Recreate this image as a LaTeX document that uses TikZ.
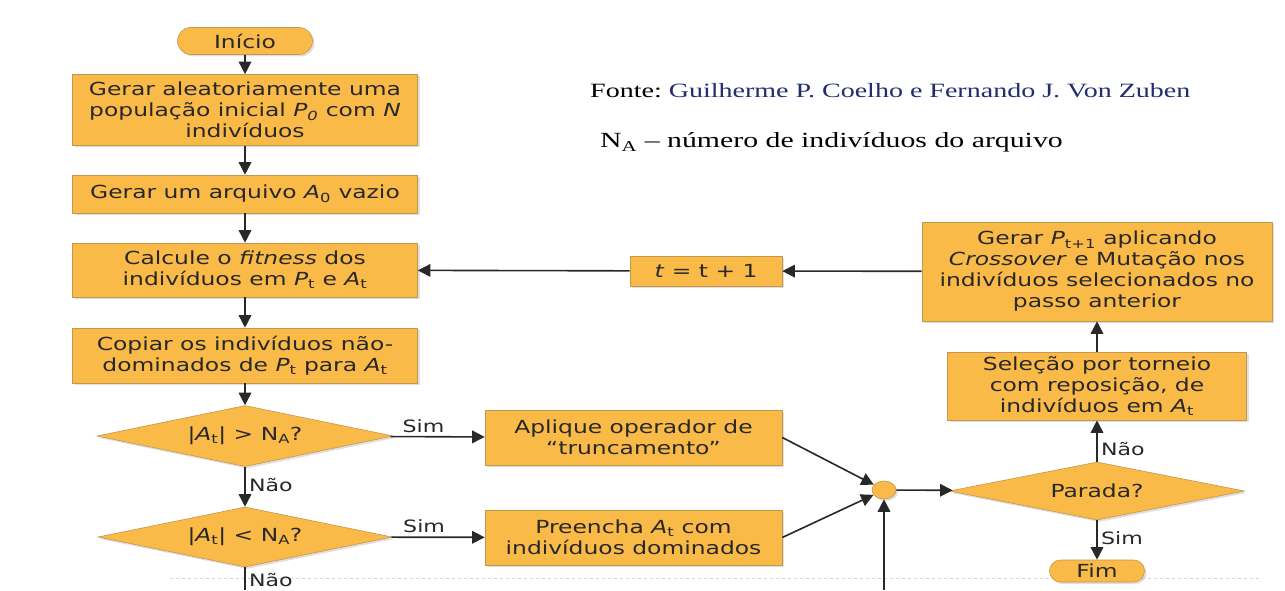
\documentclass[tikz,border=0pt]{standalone}
\usepackage{fontspec}
\usetikzlibrary{arrows.meta,shapes.geometric,shapes.misc,shadows}
\newfontfamily\flowfont[FakeStretch=1.3]{DejaVu Sans}
\newfontfamily\notefont[FakeStretch=1.38]{Liberation Serif}
\definecolor{boxfill}{RGB}{250,186,72}
\definecolor{boxline}{RGB}{196,150,80}
\definecolor{inkgray}{RGB}{40,40,40}
\definecolor{srcblue}{RGB}{35,45,110}
\definecolor{slideline}{RGB}{200,215,230}
\frenchspacing

\begin{document}
\begin{tikzpicture}[x=1pt,y=1pt,>={Triangle[length=12.5pt,width=12.5pt]},
    base/.style={fill=boxfill,draw=boxline,line width=.6pt,text=inkgray,
      drop shadow={shadow xshift=2pt,shadow yshift=-2pt,opacity=.25},
      font=\flowfont\fontsize{18}{21}\selectfont,align=center,inner sep=0pt},
    box/.style={base,rectangle},
    decision/.style={base,diamond,aspect=4.85},
    terminal/.style={base,rounded rectangle},
    joinpoint/.style={base,ellipse,minimum width=24pt,minimum height=18pt},
    flow/.style={->,line width=1.6pt,draw=inkgray},
    lbl/.style={font=\flowfont\fontsize{17}{19}\selectfont,text=inkgray}]
  \path[fill=white,use as bounding box] (0,0) rectangle (1285,590);
  % faint line of the slide
  \draw[slideline,dashed,line width=.8pt] (170,12) -- (1260,12);

  % left column
  \node[terminal,minimum width=135pt,minimum height=27pt] (inicio) at (245,549) {Início};
  \node[box,minimum width=345pt,minimum height=71pt] (gerapop) at (245,480)
    {Gerar aleatoriamente uma\\população inicial \textit{P\textsubscript{0}} com \textit{N}\\indivíduos};
  \node[box,minimum width=345pt,minimum height=38pt] (geraarq) at (245,396)
    {Gerar um arquivo \textit{A}\textsubscript{0} vazio};
  \node[box,minimum width=345pt,minimum height=54pt] (fitness) at (245,320)
    {Calcule o \textit{fitness} dos\\indivíduos em \textit{P}\textsubscript{t} e \textit{A}\textsubscript{t}};
  \node[box,minimum width=345pt,minimum height=55pt] (copia) at (245,234.5)
    {Copiar os indivíduos não-\\dominados de \textit{P}\textsubscript{t} para \textit{A}\textsubscript{t}};
  \node[decision,minimum width=296pt,minimum height=61pt] (maior) at (245,154)
    {|\textit{A}\textsubscript{t}| > N\textsubscript{A}?};
  \node[decision,minimum width=294pt,minimum height=60pt] (menor) at (245,53)
    {|\textit{A}\textsubscript{t}| < N\textsubscript{A}?};
  \coordinate (saida) at (245,0);

  % middle
  \node[box,minimum width=297pt,minimum height=55pt] (trunca) at (633.5,152.5)
    {Aplique operador de\\“truncamento”};
  \node[box,minimum width=297pt,minimum height=55pt] (preenche) at (633.5,52.5)
    {Preencha \textit{A}\textsubscript{t} com\\indivíduos dominados};
  \node[joinpoint] (junta) at (884,100) {};
  \coordinate (volta) at (884,0);
  \node[box,minimum width=152pt,minimum height=30pt] (incr) at (706,319)
    {\textit{t} = t + 1};

  % right column
  \node[decision,minimum width=295pt,minimum height=58pt] (parada) at (1097,99) {Parada?};
  \node[terminal,minimum width=95pt,minimum height=22pt] (fim) at (1097,19) {Fim};
  \node[box,minimum width=299pt,minimum height=68pt] (selecao) at (1097,204)
    {Seleção por torneio\\com reposição, de\\indivíduos em \textit{A}\textsubscript{t}};
  \node[box,minimum width=350pt,minimum height=99pt] (novapop) at (1097,318.5)
    {Gerar \textit{P}\textsubscript{t+1} aplicando\\\textit{Crossover} e Mutação nos\\indivíduos selecionados no\\passo anterior};

  % notes
  \node[anchor=base west,inner sep=0pt,font=\notefont\fontsize{20.3}{24}\selectfont] (fonte) at (590,492)
    {Fonte: \textcolor{srcblue}{Guilherme P. Coelho e Fernando J. Von Zuben}};
  \node[anchor=base west,inner sep=0pt,font=\notefont\fontsize{21.6}{25}\selectfont] (legenda) at (600,442)
    {N\textsubscript{A} – número de indivíduos do arquivo};

  % connectors
  \draw[flow] (inicio) -- (gerapop);
  \draw[flow] (gerapop) -- (geraarq);
  \draw[flow] (geraarq) -- (fitness);
  \draw[flow] (fitness) -- (copia);
  \draw[flow] (copia) -- (maior);
  \draw[flow] (maior) -- node[lbl,right,pos=.45] {Não} (menor);
  \draw[line width=1.6pt,inkgray] (menor) -- node[lbl,right,pos=.55] {Não} (saida);
  \draw[flow] (maior) -- node[lbl,above,pos=.35] {Sim} (trunca);
  \draw[flow] (menor) -- node[lbl,above,pos=.35] {Sim} (preenche);
  \draw[flow] (trunca.east) -- (junta);
  \draw[flow] (preenche.east) -- (junta);
  \draw[flow] (volta) -- (junta);
  \draw[flow] (junta) -- (parada);
  \draw[flow] (parada) -- node[lbl,right,pos=.45] {Sim} (fim);
  \draw[flow] (parada) -- node[lbl,right,pos=.3] {Não} (selecao);
  \draw[flow] (selecao) -- (novapop);
  \draw[flow] (novapop) -- (incr);
  \draw[flow] (incr) -- (fitness);
\end{tikzpicture}
\end{document}
